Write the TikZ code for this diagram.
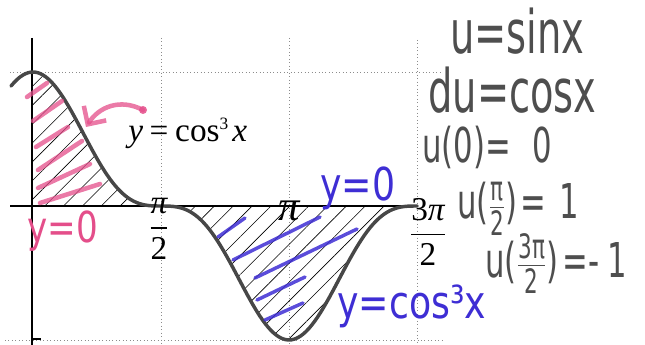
\RequirePackage{fix-cm}
\documentclass[tikz,border=0pt]{standalone}
\usepackage{amssymb,amsmath}
\usepackage{fontspec}
\usetikzlibrary{arrows.meta,patterns.meta}
\newfontfamily\printfont{Liberation Serif}
\newfontfamily\hand{DejaVu Sans}[FakeStretch=0.64]
\newfontfamily\handwide{DejaVu Sans}[FakeStretch=0.8]
\definecolor{penpink}{RGB}{228,78,138}
\definecolor{penblue}{RGB}{62,46,212}
\definecolor{pencil}{RGB}{78,78,78}
\newcommand{\smallfrac}[2]{$\genfrac{}{}{0.6pt}{1}{\text{#1}}{\text{#2}}$}

\begin{document}
\begin{tikzpicture}[x=0.75pt,y=0.75pt,yscale=-1,xscale=1,
  gridline/.style={dotted, line width=0.6pt, color=black!45},
  axisline/.style={line width=0.8pt, color=black},
  hatch/.style={pattern={Lines[angle=45,distance=10pt,line width=0.45pt]}},
  curve/.style={line width=2.6pt, color=black!72, line cap=round},
  pinkstroke/.style={line width=3.4pt, penpink, opacity=0.75, line cap=round},
  bluestroke/.style={line width=2.6pt, penblue, opacity=0.85, line cap=round},
  printlabel/.style={inner sep=0pt, font=\printfont\fontsize{25}{28}\selectfont},
  pencilbig/.style={inner sep=0pt, pencil, font=\hand\fontsize{45}{50}\selectfont},
  pencilsmall/.style={inner sep=0pt, pencil, font=\hand\fontsize{36}{40}\selectfont},
  inkpink/.style={inner sep=0pt, penpink, font=\handwide\fontsize{32}{36}\selectfont},
  inkblue/.style={inner sep=0pt, penblue, font=\handwide\fontsize{34}{38}\selectfont},
]
\useasboundingbox (0,0) rectangle (645,345);

%Grid Lines
\draw [gridline] (161,38) -- (161,345) ;
\draw [gridline] (289,38) -- (289,345) ;
\draw [gridline] (417,40) -- (417,345) ;
\draw [gridline] (10,72) -- (443,72) ;
\draw [gridline] (5,340) -- (443,340) ;

%Hatched Areas
\path [hatch] (33,206) -- plot[domain=0:pi/2,samples=40] ({33+81.5*\x},{206-134*cos(\x r)*cos(\x r)*cos(\x r)}) -- cycle ;
\path [hatch] plot[domain=pi/2:3*pi/2,samples=80] ({33+81.5*\x},{206-134*cos(\x r)*cos(\x r)*cos(\x r)}) -- cycle ;

%Axes
\draw [axisline] (10,206) -- (417,206) ;
\draw [axisline] (32,38) -- (32,345) ;
\draw [axisline] (32,339) -- (41,339) ;

%Curve Lines
\draw [curve] plot[domain=-0.27:3*pi/2,samples=140] ({33+81.5*\x},{206-134*cos(\x r)*cos(\x r)*cos(\x r)}) ;

%Pink Strokes
\draw [pinkstroke] (27,97) -- (47,83) ;
\draw [pinkstroke] (33,121) -- (62,101) ;
\draw [pinkstroke] (36,147) -- (68,127) ;
\draw [pinkstroke] (38,170) -- (82,141) ;
\draw [pinkstroke] (38,188) -- (90,164) ;
\draw [pinkstroke] (40,203) -- (100,184) ;

%Blue Strokes
\draw [bluestroke] (218,237) -- (245,218) ;
\draw [bluestroke] (233,260) -- (320,217) ;
\draw [bluestroke] (255,278) -- (357,229) ;
\draw [bluestroke] (257,300) -- (305,277) ;
\draw [bluestroke] (265,320) -- (303,303) ;

%Curve Arrow
\coordinate (arrowtail) at (143,110) ;
\coordinate (arrowtip) at (86,127) ;
\fill [penpink, opacity=0.85] (arrowtail) circle (4) ;
\draw [pinkstroke, -{Straight Barb[length=10pt,width=20pt]}] (arrowtail) .. controls (120,98) and (99,107) .. (arrowtip) ;

% Text Node
\draw (128,142) node [anchor=base west, printlabel] (curvelabel) {\textit{y}\hspace{5pt}=\hspace{5pt}cos\raisebox{9pt}{\fontsize{13}{13}\selectfont 3}\hspace{3pt}\textit{x}};
% Text Node
\draw (159,229) node [anchor=center, printlabel] (halfpi) {$\dfrac{\text{\itshape π}}{\text{2}}$};
% Text Node
\draw (289,201) node [anchor=north, printlabel, font=\printfont\fontsize{32}{34}\selectfont] (pilabel) {\itshape π};
% Text Node
\draw (428,232) node [anchor=center, printlabel] (threehalfpi) {$\dfrac{\text{3\itshape π}}{\text{2}}$};

% Text Node
\draw (450,54) node [anchor=base west, pencilbig] (usub) {u=sinx};
% Text Node
\draw (428,113) node [anchor=base west, pencilbig] (dusub) {du=cosx};
% Text Node
\draw (422,163) node [anchor=base west, pencilsmall] (uzero) {u(0)=\hspace{16pt}0};
% Text Node
\draw (457,219) node [anchor=base west, pencilsmall] (uhalf) {u(\smallfrac{π}{2})\hspace{2pt}=\hspace{10pt}1};
% Text Node
\draw (485,277) node [anchor=base west, pencilsmall] (uthree) {u(\smallfrac{3π}{2})\hspace{3pt}=-\hspace{6pt}1};

% Text Node
\draw (27,242) node [anchor=base west, inkpink] (pinkzero) {y=0};
% Text Node
\draw (320,200) node [anchor=base west, inkblue] (bluezero) {y=0};
% Text Node
\draw (337,318) node [anchor=base west, inkblue] (bluecurve) {y=cos³x};

\end{tikzpicture}
\end{document}
